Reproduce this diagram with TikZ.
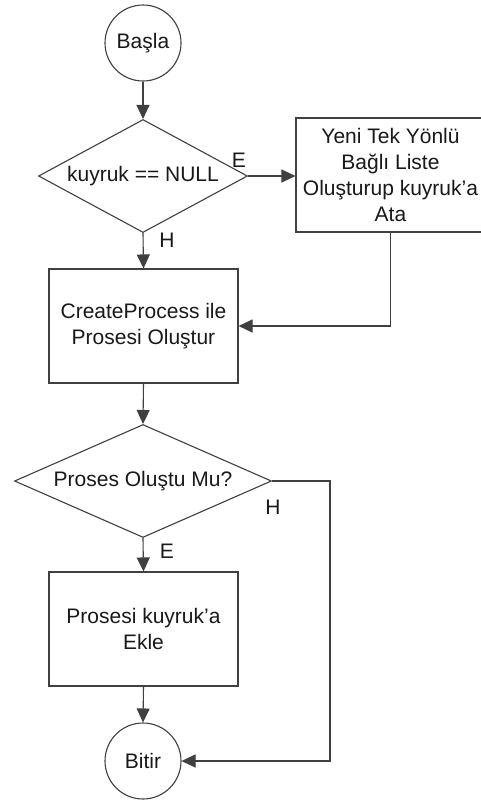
\documentclass[tikz,border=0pt]{standalone}
\usepackage{fontspec}
\setmainfont{Liberation Sans}
\usetikzlibrary{shapes.geometric,arrows.meta}
\begin{document}
\begin{tikzpicture}[x=0.5pt,y=-0.5pt,
  every node/.style={font=\fontsize{10.5}{13}\selectfont, text=black!90},
  ln/.style={draw=black!75, line width=0.55pt},
  arr/.style={ln, -{Triangle[length=7pt,width=6.5pt]}},
  term/.style={ln, circle, minimum size=38pt, inner sep=0pt},
  dec/.style={ln, diamond, inner sep=0pt},
  proc/.style={ln, rectangle, minimum width=94.5pt, minimum height=57pt, align=center, inner sep=0pt},
  lbl/.style={inner sep=0pt}
]
\useasboundingbox[fill=white] (0,0) rectangle (481,800);
\node[term] (basla) at (143,43) {Başla};
\node[dec, shape aspect=1.85, minimum width=104.5pt, minimum height=56.5pt] (d1) at (143,176) {kuyruk == NULL};
\node[proc] (b1) at (390.5,175) {Yeni Tek Yönlü\\Bağlı Liste\\Oluşturup kuyruk’a\\Ata};
\node[proc] (b2) at (143.5,326) {CreateProcess ile\\Prosesi Oluştur};
\node[dec, shape aspect=2.27, minimum width=128.5pt, minimum height=56.5pt] (d2) at (143,481) {Proses Oluştu Mu?};
\node[proc] (b3) at (143.5,629) {Prosesi kuyruk’a\\Ekle};
\node[term] (bitir) at (143,761) {Bitir};
\coordinate (r) at (330,481);

\draw[arr] (basla.south) -- (d1.north);
\draw[arr] (d1.east) -- (d1.east -| b1.west);
\draw[arr] (d1.south) -- (b2.north);
\draw[arr] (b1.south) |- (b2.east);
\draw[arr] (b2.south) -- (d2.north);
\draw[arr] (d2.south) -- (b3.north);
\draw[arr] (b3.south) -- (bitir.north);
\draw[arr] (d2.east) -- (r) |- (bitir.east);

\node[lbl] (le1) at (239,160) {E};
\node[lbl] (lh1) at (167,240) {H};
\node[lbl] (lh2) at (273,507) {H};
\node[lbl] (le2) at (167,551) {E};
\end{tikzpicture}
\end{document}
